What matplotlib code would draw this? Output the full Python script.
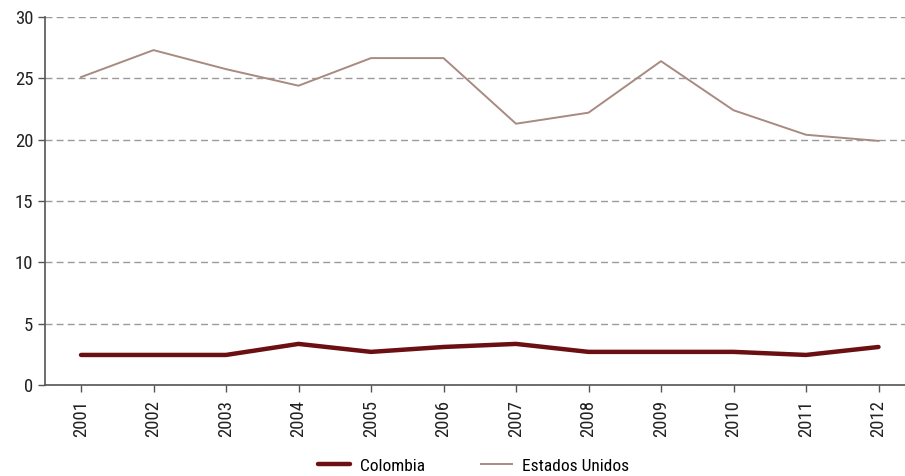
import matplotlib.pyplot as plt
from matplotlib import font_manager

years = [2001, 2002, 2003, 2004, 2005, 2006, 2007, 2008, 2009, 2010, 2011, 2012]
colombia = [2.45, 2.45, 2.45, 3.35, 2.7, 3.1, 3.35, 2.7, 2.7, 2.7, 2.45, 3.1]
estados_unidos = [25.1, 27.3, 25.75, 24.4, 26.65, 26.65, 21.3, 22.2, 26.4, 22.4, 20.4, 19.9]

names = {f.name for f in font_manager.fontManager.ttflist}
fam = 'DejaVu Sans'
for cand in ['Roboto Condensed', 'Liberation Sans Narrow', 'Open Sans Condensed', 'Roboto', 'Liberation Sans']:
    if cand in names:
        fam = cand
        break
plt.rcParams['font.family'] = [fam, 'DejaVu Sans']

W, H = 905, 476
fig = plt.figure(figsize=(W / 100, H / 100), dpi=100)
ax = fig.add_axes([45 / W, 1 - 385 / H, (905 - 45) / W, (385 - 17) / H])

x = list(range(len(years)))
ax.plot(x, colombia, color='#6b0f12', lw=3.2, solid_capstyle='round', label='Colombia', zorder=3)
ax.plot(x, estados_unidos, color='#a88a80', lw=1.4, label='Estados Unidos', zorder=3)

step = 72.5
ax.set_xlim(-36 / step, (905 - 81) / step)
ax.set_ylim(0, 30)
ax.set_yticks([0, 5, 10, 15, 20, 25, 30])
ax.set_xticks(x)
ax.set_xticklabels([str(y) for y in years], rotation=90)
ax.yaxis.grid(True, color='#9a9a9a', ls=(0, (5, 3)), lw=1)
ax.set_axisbelow(True)
for s in ['top', 'right']:
    ax.spines[s].set_visible(False)
for s in ['left', 'bottom']:
    ax.spines[s].set_color('#555555')
    ax.spines[s].set_linewidth(1.2)
ax.tick_params(axis='both', colors='#555555', labelcolor='#222222', labelsize=13.5, length=5, width=1)
ax.tick_params(axis='x', pad=6)

fig.legend(loc='center', bbox_to_anchor=(474 / W, 1 - 466 / H), ncol=2, frameon=False,
           fontsize=12.5, handlelength=1.8, handletextpad=0.6, columnspacing=3.2, borderaxespad=0)

fig.savefig('out.png', dpi=100)
